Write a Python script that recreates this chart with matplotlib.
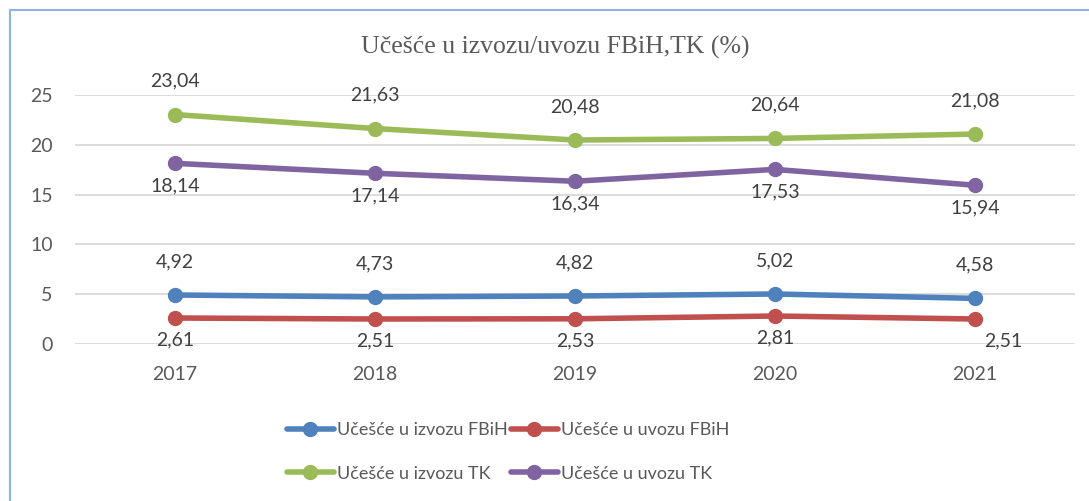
import matplotlib
matplotlib.use("Agg")
import matplotlib.pyplot as plt
from matplotlib.lines import Line2D

# podaci sa grafika
godine = ['2017', '2018', '2019', '2020', '2021']
izvoz_fbih = [4.92, 4.73, 4.82, 5.02, 4.58]
uvoz_fbih = [2.61, 2.51, 2.53, 2.81, 2.51]
izvoz_tk = [23.04, 21.63, 20.48, 20.64, 21.08]
uvoz_tk = [18.14, 17.14, 16.34, 17.53, 15.94]

naslov = 'Učešće u izvozu/uvozu FBiH,TK (%)'
nazivi = ['Učešće u izvozu FBiH', 'Učešće u uvozu FBiH',
          'Učešće u izvozu TK', 'Učešće u uvozu TK']
boje = ['#4F81BD', '#C0504D', '#9BBB59', '#8064A2']

plt.rcParams['font.family'] = ['Lato', 'DejaVu Sans']
siva = '#595959'

fig = plt.figure(figsize=(10.89, 5.01), dpi=100)
ax = fig.add_axes([75 / 1089, 157 / 501, 1000 / 1089, 249 / 501])

x = list(range(len(godine)))
serije = [izvoz_fbih, uvoz_fbih, izvoz_tk, uvoz_tk]
# gore / dolje za oznake vrijednosti
pomak = [24, -16, 24, -16]

linije = []
for s, naziv, boja, dy in zip(serije, nazivi, boje, pomak):
    l, = ax.plot(x, s, color=boja, lw=4, marker='o', ms=10, label=naziv,
                 solid_capstyle='round', zorder=3)
    linije.append(l)
    for i, v in enumerate(s):
        dx = 0
        if naziv == nazivi[1] and i == len(s) - 1:
            dx = 20
        ax.annotate(('%.2f' % v).replace('.', ','), (i, v),
                    xytext=(dx, dy), textcoords='offset points',
                    ha='center', va='center', fontsize=14, color='#404040')

ax.set_xlim(-0.5, len(godine) - 0.5)
ax.set_ylim(0, 25)
ax.set_yticks([0, 5, 10, 15, 20, 25])
ax.set_xticks(x)
ax.set_xticklabels(godine)
ax.tick_params(axis='both', length=0, labelsize=14, colors=siva)
ax.tick_params(axis='x', pad=16)
ax.tick_params(axis='y', pad=16)
ax.grid(axis='y', color='#D9D9D9', lw=1.3)
ax.set_axisbelow(True)
for sp in ax.spines.values():
    sp.set_visible(False)

fig.text(555 / 1089, 1 - 47 / 501, naslov, ha='center', va='center',
         fontsize=18.5, color=siva, family=['Liberation Serif', 'DejaVu Serif'])

# redoslijed po redovima (legenda se puni po kolonama)
red = [0, 2, 1, 3]
leg = fig.legend([linije[i] for i in red], [nazivi[i] for i in red],
                 loc='center', bbox_to_anchor=(508 / 1089, 1 - 452 / 501),
                 ncol=2, frameon=False, fontsize=13, handlelength=2.6,
                 handletextpad=0.15, columnspacing=0.2, labelspacing=1.5)
for t in leg.get_texts():
    t.set_color(siva)

# okvir (vidljivi su samo lijevi i gornji rub)
fig.add_artist(Line2D([10 / 1089, 10 / 1089], [0, 1 - 10 / 501],
                      transform=fig.transFigure, color='#8DB4E2', lw=1.5))
fig.add_artist(Line2D([10 / 1089, 1], [1 - 10 / 501, 1 - 10 / 501],
                      transform=fig.transFigure, color='#8DB4E2', lw=1.5))

fig.savefig('out.png', dpi=100)
